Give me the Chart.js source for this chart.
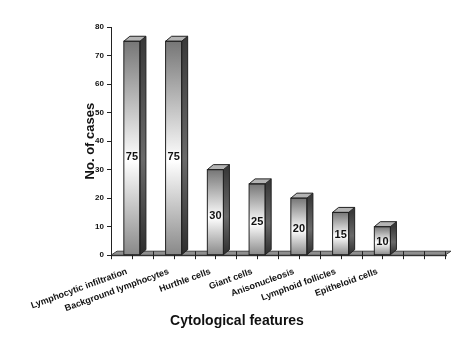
<!DOCTYPE html>
<html><head><meta charset="utf-8">
<script src="https://cdn.jsdelivr.net/npm/chart.js@4/dist/chart.umd.min.js"></script>
<style>html,body{margin:0;padding:0;background:#fff}#wrap{width:474px;height:355px}</style>
</head><body><div id="wrap"><canvas id="c" width="474" height="355"></canvas></div>
<script>
const categories = ["Lymphocytic infiltration","Background lymphocytes","Hurthle cells","Giant cells","Anisonucleosis","Lymphoid follicles","Epitheloid cells",""];
const cases = [75,75,30,25,20,15,10,null];
const yTicks = [0,10,20,30,40,50,60,70,80];

const DX = 6, DY = 5;
const FONT = "'Liberation Sans', Arial, sans-serif";

function frontFill(ctx){
  const chart = ctx.chart;
  const ys = chart.scales.y;
  if (!ys || !chart.chartArea || ctx.parsed == null || ctx.parsed.y == null) return '#999';
  const top = ys.getPixelForValue(ctx.parsed.y), base = ys.getPixelForValue(0);
  if (!isFinite(top) || !isFinite(base) || top === base) return '#999';
  const g = chart.ctx.createLinearGradient(0, top, 0, base);
  g.addColorStop(0, '#767676');
  g.addColorStop(0.56, '#ffffff');
  g.addColorStop(1, '#888888');
  return g;
}

const threeD = {
  id: 'threeD',
  beforeDatasetsDraw(chart){
    const c = chart.ctx, xs = chart.scales.x, ys = chart.scales.y;
    const base = ys.getPixelForValue(0);
    const l = xs.left, r = xs.right;
    c.save();
    c.beginPath();
    c.moveTo(l, base); c.lineTo(r, base); c.lineTo(r + DX, base - DY + 1); c.lineTo(l + DX, base - DY + 1); c.closePath();
    c.fillStyle = '#8f8f8f'; c.fill();
    c.strokeStyle = '#444'; c.lineWidth = 1; c.stroke();
    c.strokeStyle = '#222';
    const n = categories.length;
    const w = (xs.getPixelForValue(1) - xs.getPixelForValue(0));
    for (let i = 0; i < n; i++) {
      const cx = xs.getPixelForValue(i);
      [cx - w/2, cx].forEach(px => {
        c.beginPath(); c.moveTo(Math.round(px)+0.5, base - 4); c.lineTo(Math.round(px)+0.5, base + 4); c.stroke();
      });
    }
    const ex = xs.getPixelForValue(n-1) + w/2;
    c.beginPath(); c.moveTo(Math.round(ex)+0.5, base - 4); c.lineTo(Math.round(ex)+0.5, base + 4); c.stroke();
    c.beginPath(); c.moveTo(l, base + 0.5); c.lineTo(r + 2, base + 0.5); c.stroke();
    c.restore();
  },
  afterDatasetsDraw(chart){
    const c = chart.ctx;
    const meta = chart.getDatasetMeta(0);
    c.save();
    meta.data.forEach((bar, i) => {
      if (cases[i] == null) return;
      const {x, y, base, width} = bar.getProps(['x','y','base','width'], true);
      if (![x,y,base,width].every(isFinite)) return;
      const L = x - width/2, R = x + width/2;
      const sg = c.createLinearGradient(0, y, 0, base);
      sg.addColorStop(0, '#3a3a3a'); sg.addColorStop(0.55, '#6a6a6a'); sg.addColorStop(1, '#2e2e2e');
      c.beginPath();
      c.moveTo(R, y); c.lineTo(R + DX, y - DY); c.lineTo(R + DX, base - DY); c.lineTo(R, base); c.closePath();
      c.fillStyle = sg; c.fill();
      c.strokeStyle = '#222'; c.lineWidth = 1; c.stroke();
      c.beginPath();
      c.moveTo(L, y); c.lineTo(L + DX, y - DY); c.lineTo(R + DX, y - DY); c.lineTo(R, y); c.closePath();
      c.fillStyle = '#b4b4b4'; c.fill(); c.stroke();
      c.strokeRect(L, y, width, base - y);
      c.fillStyle = '#111';
      c.font = "bold 11px " + FONT;
      c.textAlign = 'center'; c.textBaseline = 'middle';
      c.fillText(String(cases[i]), x, base + (y - base) * 0.46);
    });
    c.restore();
  }
};

new Chart(document.getElementById('c'), {
  type: 'bar',
  data: { labels: categories, datasets: [{ data: cases, backgroundColor: frontFill, borderWidth: 0, barPercentage: 0.385, categoryPercentage: 1 }] },
  options: {
    responsive: false, animation: false, devicePixelRatio: 1,
    layout: { padding: { top: 27, right: 0, left: 0, bottom: 0 } },
    plugins: {
      legend: { display: false }, tooltip: { enabled: false },
      title: { display: true, position: 'bottom', text: 'Cytological features', color: '#111',
        font: { family: FONT, size: 14, weight: 'bold' }, padding: { top: 0, bottom: 25 } }
    },
    scales: {
      x: {
        offset: true,
        grid: { display: false, drawTicks: false },
        border: { display: false },
        ticks: { autoSkip: false, minRotation: 20, maxRotation: 20, color: '#111', padding: 11, labelOffset: -5,
          font: { family: FONT, size: 9, weight: 'bold' } },
        afterFit(s){ s.height = 58; }
      },
      y: {
        min: 0, max: 80,
        afterBuildTicks(s){ s.ticks = yTicks.map(v => ({ value: v })); },
        grid: { drawOnChartArea: false, color: '#222', tickLength: 4 },
        border: { display: true, color: '#222' },
        ticks: { color: '#111', padding: 3, font: { family: FONT, size: 8, weight: 'bold' } },
        title: { display: true, text: 'No. of cases', color: '#111', font: { family: FONT, size: 13, weight: 'bold' }, padding: { top: 83, bottom: 0 } },
        afterFit(s){ s.width = 111; }
      },
      yRight: {
        position: 'right', display: true, min: 0, max: 80,
        grid: { display: false, drawTicks: false }, border: { display: false },
        ticks: { display: false },
        afterFit(s){ s.width = 29; }
      }
    }
  },
  plugins: [threeD]
});
</script></body></html>
